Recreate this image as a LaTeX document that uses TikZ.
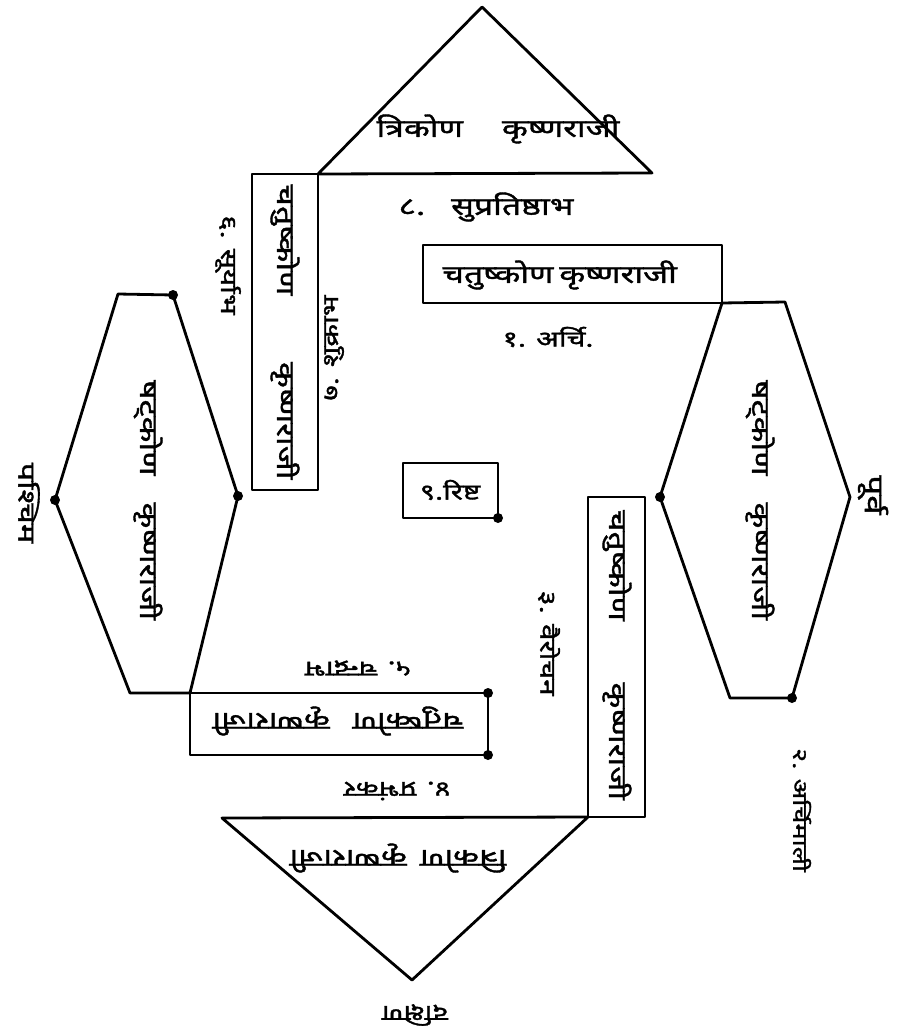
\documentclass[tikz,border=0pt]{standalone}
\usepackage{fontspec}
\newfontfamily\deva[Script=Devanagari, FakeStretch=1.35, FakeBold=1.5]{Noto Sans}
\usepackage{tikz}
\newcommand\spread[2]{\makebox[#1pt][s]{#2}}

\begin{document}
\begin{tikzpicture}[x=1pt, y=-1pt, line width=2.8pt, line join=round,
    every node/.style={font=\deva\fontsize{22}{26}\selectfont, inner sep=0pt},
    raji/.style={font=\deva\fontsize{25}{30}\selectfont},
    dot/.style={circle, fill, inner sep=0pt, minimum size=10pt}]
    \useasboundingbox (0,0) rectangle (899,1032);
    % North
    \coordinate (Na) at (482,7);
    \coordinate (Nl) at (318,174);
    \coordinate (Nr) at (652,173);
    \draw (Nl) -- (Na) -- (Nr) -- cycle;
    \node[raji] (Nt) at (498,129) {\spread{243}{त्रिकोण कृष्णराजी}};
    \node[raji] (N8) at (486,207) {\spread{175}{८. सुप्रतिष्ठाभ}};
    \coordinate (Qa) at (423,245);
    \coordinate (Qb) at (722,303);
    \draw (Qa) rectangle (Qb);
    \node[raji] (Qt) at (556,275) {\spread{227}{चतुष्कोण कृष्णराजी}};
    \node (N1) at (548,337) {१. अर्चि.};
    % East
    \coordinate (Eb) at (785,302);
    \coordinate (Ec) at (850,497);
    \coordinate (Ed) at (792,698);
    \coordinate (Ee) at (730,698);
    \coordinate (Ef) at (660,497);
    \draw (Qb) -- (Eb) -- (Ec) -- (Ed) -- (Ee) -- (Ef) -- cycle;
    \node[raji, rotate=-90] (Et) at (760,500) {\spread{240}{षट्कोण कृष्णराजी}};
    \node[rotate=-90, font=\deva\fontsize{26}{30}\selectfont] (East) at (873,495) {पूर्व};
    \node[rotate=-90, font=\deva\fontsize{20}{24}\selectfont] (E2) at (802,810) {२. अर्चिमाली};
    \coordinate (Ra) at (588,497);
    \coordinate (Rb) at (645,817);
    \draw (Ra) rectangle (Rb);
    \node[raji, rotate=-90] (Rt) at (617,655) {\spread{290}{चतुष्कोण कृष्णराजी}};
    \node[rotate=-90] (E3) at (549,643) {३. वैरोचन};
    % South
    \coordinate (Sl) at (222,818);
    \coordinate (Sr) at (588,817);
    \coordinate (Sa) at (412,980);
    \draw (Sl) -- (Sr) -- (Sa) -- cycle;
    \node[raji, rotate=180] (St) at (398,858) {\spread{217}{त्रिकोण कृष्णराजी}};
    \node[rotate=180] (South) at (415,1015) {दक्षिण};
    \node[rotate=180] (S4) at (397,791) {४. प्रभंकर};
    \coordinate (Pa) at (190,693);
    \coordinate (Pb) at (488,755);
    \draw (Pa) rectangle (Pb);
    \node[raji, rotate=180] (Pt) at (338,721) {\spread{251}{चतुष्कोण कृष्णराजी}};
    \node[rotate=180] (S5) at (358,668) {५. चन्द्राभ};
    % West
    \coordinate (Wa) at (118,294);
    \coordinate (Wb) at (173,295);
    \coordinate (Wc) at (238,496);
    \coordinate (We) at (130,693);
    \coordinate (Wf) at (55,500);
    \draw (Wa) -- (Wb) -- (Wc) -- (Pa) -- (We) -- (Wf) -- cycle;
    \node[raji, rotate=-90] (Wt) at (148,500) {\spread{240}{षट्कोण कृष्णराजी}};
    \node[rotate=-90, font=\deva\fontsize{24}{28}\selectfont] (West) at (29,503) {पश्चिम};
    \node[rotate=-90] (W6) at (228,265) {६. सूर्याभ};
    \coordinate (Va) at (252,490);
    \draw (Va) rectangle (Nl);
    \node[raji, rotate=-90] (Vt) at (285,332) {\spread{295}{चतुष्कोण कृष्णराजी}};
    \node[rotate=90] (W7) at (334,348) {७. शुक्राभ};
    % Centre
    \coordinate (Ca) at (403,463);
    \coordinate (Cb) at (498,518);
    \draw (Ca) rectangle (Cb);
    \node (C9) at (450,490) {९.रिष्ट};
    % Dots
    \node[dot] at (Wb) {};
    \node[dot] at (Wc) {};
    \node[dot] at (Wf) {};
    \node[dot] at (Pb) {};
    \node[dot] at (Pb|-Pa) {};
    \node[dot] at (Cb) {};
    \node[dot] at (Ef) {};
    \node[dot] at (Ed) {};
\end{tikzpicture}
\end{document}
